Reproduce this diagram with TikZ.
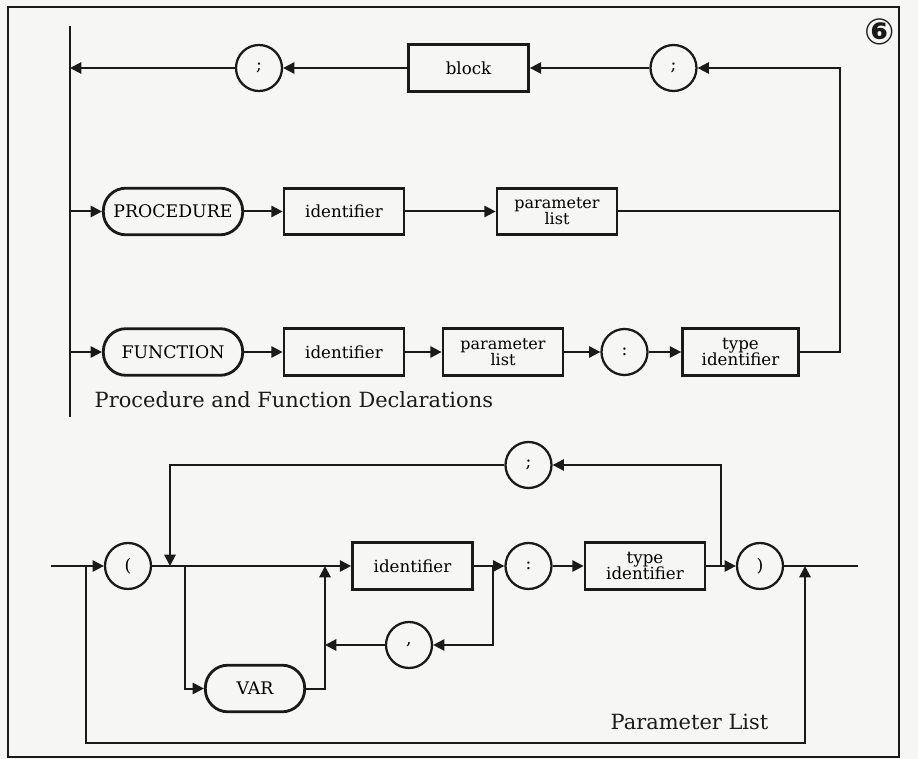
\documentclass[tikz,border=0pt]{standalone}
\usepackage{fontspec}
\setmainfont{DejaVu Serif}
\newfontfamily\numfont{DejaVu Sans}
\usepackage{tikz}
\usetikzlibrary{arrows.meta,positioning}
\definecolor{ink}{HTML}{1A1A1A}
\definecolor{paper}{HTML}{F6F6F4}
\tikzset{
  nonterm/.style={rectangle,draw=ink,line width=2.1pt,minimum width=90pt,minimum height=35pt,
    align=center,inner sep=2pt,font=\fontsize{12.5}{12.5}\selectfont},
  reserved/.style={rectangle,rounded corners=17pt,draw=ink,line width=2.1pt,minimum width=104.5pt,
    minimum height=35pt,font=\fontsize{13}{14}\selectfont},
  symbol/.style={circle,draw=ink,line width=1.7pt,minimum size=34.5pt,inner sep=0pt,
    font=\fontsize{13}{14}\selectfont},
  arrow/.style={-{Triangle[length=8.5pt,width=8.5pt]},line width=1.5pt,draw=ink},
  link/.style={line width=1.5pt,draw=ink},
  caption/.style={font=\fontsize{15.7}{18}\selectfont,text=ink}
}

\begin{document}
\begin{tikzpicture}[x=0.75pt,y=-0.75pt]
\fill[paper] (0,0) rectangle (918,759);
\useasboundingbox (0,0) rectangle (918,759);
\draw[ink,line width=1.1pt] (8,7) rectangle (899,757);
\node[font=\numfont\bfseries\fontsize{27}{27}\selectfont,text=ink,inner sep=0pt] (num) at (880,32) {⑥};

% procedure and function declarations
\coordinate (lt) at (70,26);
\coordinate (lb) at (70,417);
\coordinate (rt) at (840,68);
\node[symbol] (semiA) at (259,68) {;};
\node[nonterm] (block) at (468.5,68) {block};
\node[symbol] (semiB) at (673.5,68) {;};
\node[reserved] (proc) at (173,211.5) {PROCEDURE};
\node[nonterm] (idA) at (344,211.5) {identifier};
\node[nonterm,font=\fontsize{12}{12}\selectfont] (plA) at (557,211.5) {parameter\\list};
\node[reserved] (func) at (173,352) {FUNCTION};
\node[nonterm] (idB) at (344,352) {identifier};
\node[nonterm,font=\fontsize{12}{12}\selectfont] (plB) at (503,352) {parameter\\list};
\node[symbol] (colA) at (624.5,352) {:};
\node[nonterm,minimum width=87pt] (tyA) at (740.5,352) {type\\identifier};
\node[caption,anchor=west] (capA) at (90,400) {Procedure and Function Declarations};

\draw[link] (lt) -- (lb);
\draw[arrow] (tyA) -- (tyA -| rt) -- (rt) -- (semiB);
\draw[arrow] (semiB) -- (block);
\draw[arrow] (block) -- (semiA);
\draw[arrow] (semiA) -- (semiA -| lt);
\draw[arrow] (proc -| lt) -- (proc);
\draw[arrow] (proc) -- (idA);
\draw[arrow] (idA) -- (plA);
\draw[link] (plA) -- (plA -| rt);
\draw[arrow] (func -| lt) -- (func);
\draw[arrow] (func) -- (idB);
\draw[arrow] (idB) -- (plB);
\draw[arrow] (plB) -- (colA);
\draw[arrow] (colA) -- (tyA);

% parameter list
\coordinate (pin) at (51,566);
\coordinate (pout) at (858,566);
\coordinate (skipA) at (86,566);
\coordinate (skipB) at (805,743);
\coordinate (repL) at (170,566);
\coordinate (rep) at (721,566);
\coordinate (varA) at (185,566);
\coordinate (varB) at (325,566);
\coordinate (more) at (493,566);
\node[symbol] (lpar) at (128,566) {(};
\node[nonterm] (idC) at (412.5,566) {identifier};
\node[symbol] (colB) at (528.5,566) {:};
\node[nonterm] (tyB) at (645,566) {type\\identifier};
\node[symbol] (rpar) at (760,566) {)};
\node[symbol] (semiC) at (528.5,465) {;};
\node[symbol] (comma) at (409,645) {,};
\node[reserved,minimum width=74.5pt] (var) at (255,688.5) {VAR};
\node[caption] (capB) at (689.5,722) {Parameter List};

\draw[arrow] (pin) -- (lpar);
\draw[arrow] (lpar) -- (idC);
\draw[arrow] (idC) -- (colB);
\draw[arrow] (colB) -- (tyB);
\draw[arrow] (tyB) -- (rpar);
\draw[link] (rpar) -- (pout);
\draw[arrow] (skipA) -- (skipA |- skipB) -- (skipB) -- (skipB |- pout);
\draw[arrow] (rep) -- (rep |- semiC) -- (semiC);
\draw[arrow] (semiC) -- (semiC -| repL) -- (repL);
\draw[arrow] (varA) -- (varA |- var) -- (var);
\draw[arrow] (var) -- (var -| varB) -- (varB);
\draw[arrow] (more) -- (more |- comma) -- (comma);
\draw[arrow] (comma) -- (comma -| varB);
\end{tikzpicture}
\end{document}
